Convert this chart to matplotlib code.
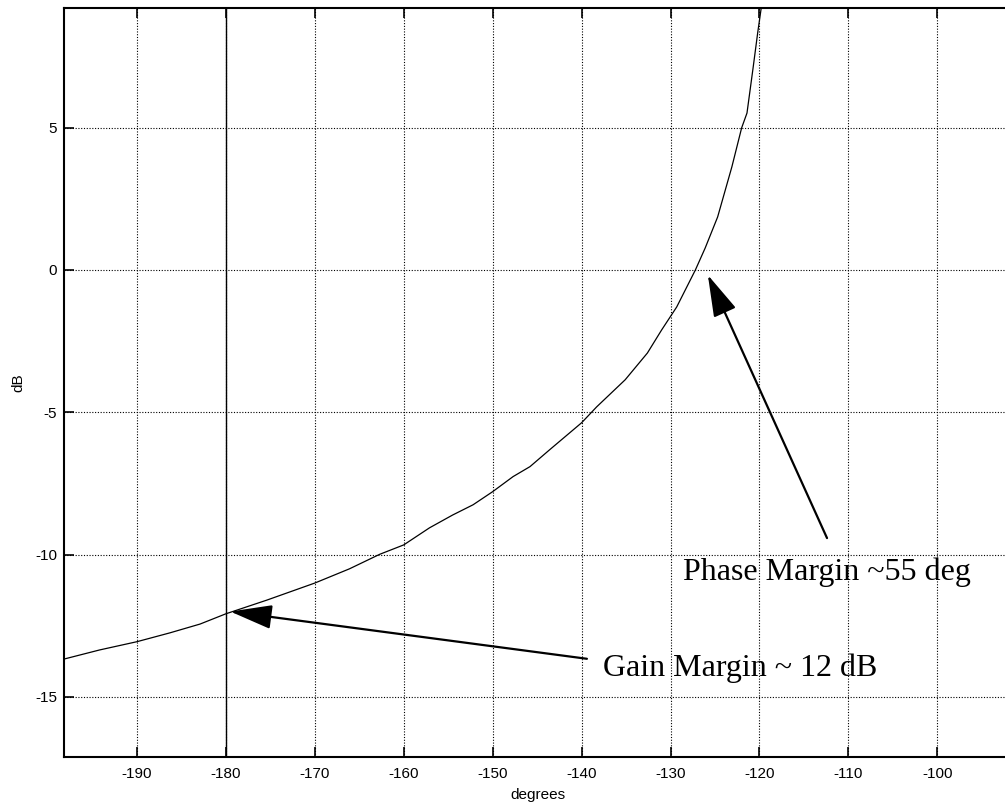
import matplotlib
matplotlib.use("Agg")
import matplotlib.pyplot as plt

# open-loop response, Nichols form (phase in degrees, gain in dB)
phase = [-198.2, -194.2, -190.0, -186.3, -182.9, -180.0, -175.4, -170.0, -166.1,
         -162.7, -160.0, -157.1, -154.5, -152.2, -150.0, -147.7, -145.8, -143.6,
         -140.0, -138.3, -135.1, -132.6, -131.0, -129.3, -127.2, -126.1, -124.7,
         -123.1, -122.0, -121.4, -120.7, -120.2, -119.8]
gain = [-13.67, -13.35, -13.06, -12.75, -12.44, -12.08, -11.60, -11.00, -10.50,
        -9.99, -9.66, -9.06, -8.61, -8.25, -7.79, -7.26, -6.91, -6.32,
        -5.37, -4.81, -3.86, -2.92, -2.11, -1.30, 0.00, 0.77, 1.86,
        3.62, 4.99, 5.51, 7.13, 8.32, 9.20]

xticks = [-190, -180, -170, -160, -150, -140, -130, -120, -110, -100]
yticks = [-15, -10, -5, 0, 5]

# annotations: (text, text xy, arrow tail, arrow tip)
gm_text, gm_pos, gm_tail, gm_tip = "Gain Margin ~ 12 dB", (-137.6, -14.25), (-139.4, -13.66), (-179.5, -12.0)
pm_text, pm_pos, pm_tail, pm_tip = "Phase Margin ~55 deg", (-128.6, -10.89), (-112.4, -9.42), (-125.8, -0.18)

plt.rcParams["font.family"] = ["Liberation Sans", "DejaVu Sans"]
plt.rcParams["axes.unicode_minus"] = False

fig = plt.figure(figsize=(10.05, 8.06), dpi=100)
# axes run past the right edge of the canvas, like the original crop
ax = fig.add_axes([64 / 1005, 49 / 806, 948 / 1005, 749 / 806])

ax.plot(phase, gain, color="k", lw=0.9)
ax.axvline(-180, color="k", lw=1.0)

ax.set_xlim(-198.2, -91.6)
ax.set_ylim(-17.11, 9.2)
ax.set_xticks(xticks)
ax.set_yticks(yticks)
ax.grid(True, color="k", lw=0.8, linestyle=(0, (1, 1.5)))
ax.tick_params(direction="in", top=True, right=False, length=7, width=1.2,
               labelsize=11)
ax.tick_params(axis="x", pad=7.5)
ax.tick_params(axis="y", pad=5)
for s in ax.spines.values():
    s.set_linewidth(1.5)

ax.set_xlabel("degrees", fontsize=11, labelpad=5)
ax.set_ylabel("dB", fontsize=11, labelpad=7)

arrow = dict(arrowstyle="-|>,head_length=26,head_width=7.5", mutation_scale=1,
             color="k", lw=1.6, shrinkA=0, shrinkB=0)
ax.annotate("", xy=gm_tip, xytext=gm_tail, arrowprops=arrow)
ax.annotate("", xy=pm_tip, xytext=pm_tail, arrowprops=arrow)

ax.text(*gm_pos, gm_text, family="Liberation Serif", fontsize=23,
        ha="left", va="baseline")
ax.text(*pm_pos, pm_text, family="Liberation Serif", fontsize=23,
        ha="left", va="baseline")

fig.savefig("out.png", dpi=100)
